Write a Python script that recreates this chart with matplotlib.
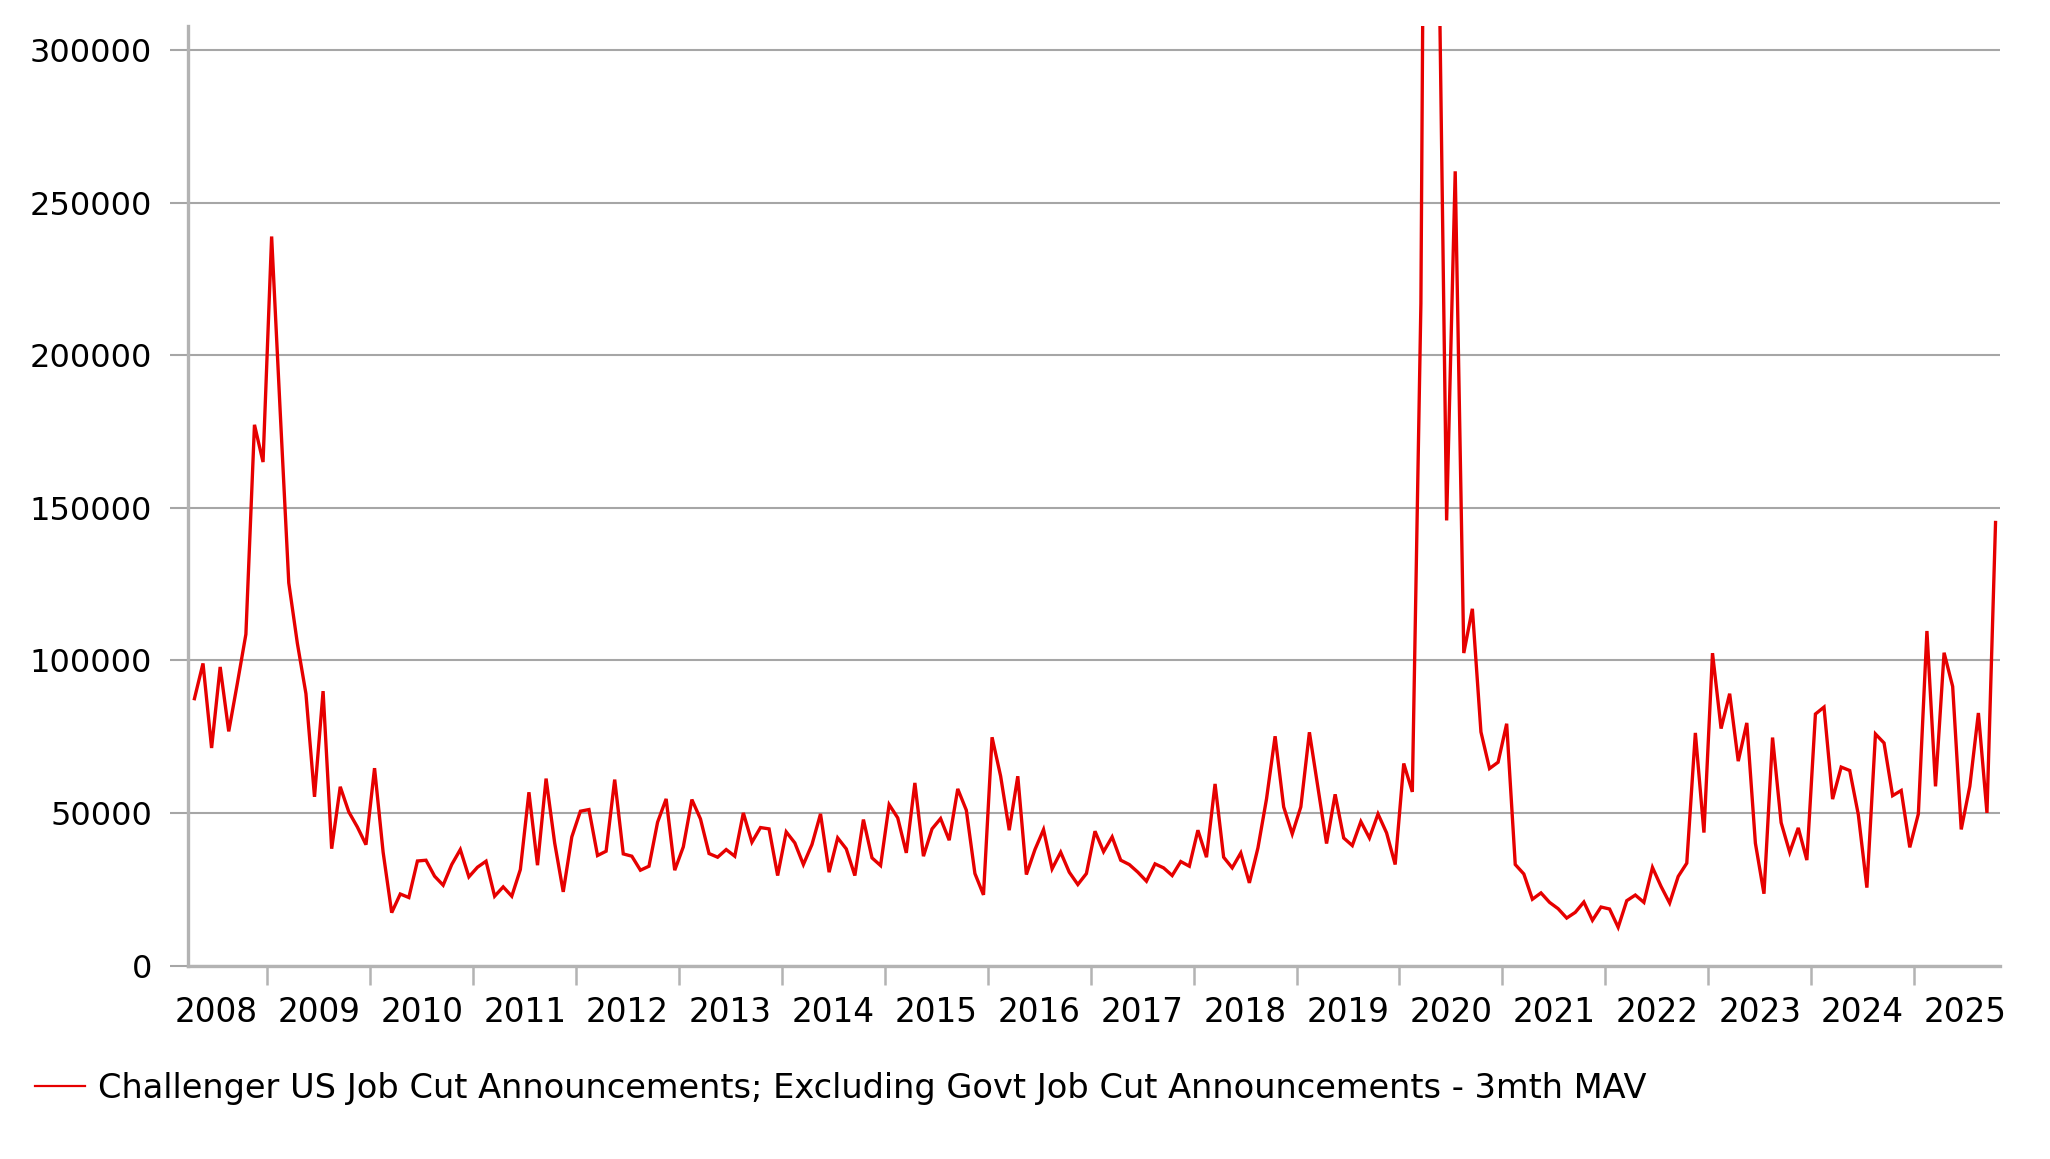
import numpy as np
import matplotlib
matplotlib.use("Agg")
import matplotlib.pyplot as plt
from matplotlib.lines import Line2D

# ---------------- data (monthly) ----------------
start_year, start_month = 2008, 4  # first observation: April 2008

cuts_2008 = [87450, 99000, 71280, 97845, 76725, 92400, 108570, 177210, 165000]
cuts_2009 = [238920, 181500, 125400, 105600, 89100, 55275, 89925, 38280, 58575, 50325, 45375, 39600]
cuts_2010 = [64680, 37125, 17325, 23430, 22275, 34250, 34500, 29270, 26320, 33090, 38000, 29050]
cuts_2011 = [32210, 34180, 22710, 25770, 22710, 31450, 56780, 32870, 61260, 40190, 24130, 42150]
cuts_2012 = [50560, 51110, 36040, 37460, 60930, 36580, 35820, 31230, 32540, 46960, 54600, 31230]
cuts_2013 = [38880, 54380, 48050, 36690, 35490, 38000, 35820, 50010, 40400, 45210, 44770, 29480]
cuts_2014 = [43790, 40190, 33090, 39640, 49690, 30580, 41820, 38220, 29480, 47830, 35270, 32760]
cuts_2015 = [52740, 48380, 36910, 59840, 35820, 44770, 48160, 41060, 57880, 50890, 30140, 23150]
cuts_2016 = [74800, 62030, 44340, 62030, 29810, 38000, 44550, 31670, 37130, 30580, 26540, 30140]
cuts_2017 = [44010, 37300, 42150, 34510, 33090, 30580, 27630, 33310, 32000, 29480, 34070, 32540]
cuts_2018 = [44340, 35490, 59510, 35490, 32000, 36910, 27080, 38550, 54600, 75130, 51980, 43130]
cuts_2019 = [51980, 76440, 58200, 39970, 56100, 41790, 39310, 47170, 41790, 49660, 43450, 33100]
cuts_2020 = [66210, 56900, 217000, 662000, 355000, 145860, 260280, 102400, 116900, 76550, 64550, 66620]
cuts_2021 = [79240, 33100, 30000, 21720, 23790, 20690, 18620, 15550, 17420, 20800, 14810, 19170]
cuts_2022 = [18510, 12520, 21240, 23090, 20690, 32130, 25920, 20470, 29190, 33540, 76230, 43560]
cuts_2023 = [102370, 77650, 89080, 66970, 79500, 40080, 23520, 74710, 46830, 37080, 45100, 34550]
cuts_2024 = [82420, 84680, 54530, 65030, 63900, 49450, 25520, 75870, 72930, 55660, 57350, 38720]
cuts_2025 = [49680, 109630, 58710, 102510, 91450, 44600, 58710, 82760, 50010, 145190]

series_label = ("Challenger US Job Cut Announcements; Excluding Govt Job Cut "
                "Announcements - 3mth MAV")
year_labels = [str(y) for y in range(2008, 2026)]
y_tick_values = [0, 50000, 100000, 150000, 200000, 250000, 300000]

# ---------------- assemble ----------------
values = np.array(cuts_2008 + cuts_2009 + cuts_2010 + cuts_2011 + cuts_2012 +
                  cuts_2013 + cuts_2014 + cuts_2015 + cuts_2016 + cuts_2017 +
                  cuts_2018 + cuts_2019 + cuts_2020 + cuts_2021 + cuts_2022 +
                  cuts_2023 + cuts_2024 + cuts_2025, dtype=float)
month_index = np.arange(len(values)) + (start_month - 1)
xpos = start_year + (month_index + 0.5) / 12.0

plt.rcParams["font.family"] = ["DejaVu Sans"]

fig = plt.figure(figsize=(20.5, 11.59), dpi=100)
ax = fig.add_axes([0.09185, 0.16695, 0.88376, 0.81088])

red = "#E60000"
grid_c = "#A6A6A6"
axis_c = "#B3B3B3"

ax.plot(xpos, values, color=red, lw=2.4, solid_joinstyle="miter", zorder=3)

ax.set_xlim(2008.232, 2025.835)
ax.set_ylim(0, 308000)

# y axis
ax.set_yticks(y_tick_values)
ax.set_yticklabels([str(v) for v in y_tick_values])
ax.yaxis.grid(True, color=grid_c, lw=1.5)
ax.set_axisbelow(True)
ax.tick_params(axis="y", direction="out", length=13, width=1.5, color=grid_c,
               pad=13, labelsize=23, labelcolor="black")

# x axis: ticks at year boundaries, labels at mid-year
ax.set_xticks(list(range(2009, 2026)))
ax.set_xticklabels([])
ax.set_xticks([int(y) + 0.5 for y in year_labels], minor=True)
ax.set_xticklabels(year_labels, minor=True)
ax.tick_params(axis="x", which="major", direction="out", length=13.5,
               width=1.8, color=axis_c)
ax.tick_params(axis="x", which="minor", length=0, pad=22, labelsize=23.5,
               labelcolor="black")

for s in ("top", "right"):
    ax.spines[s].set_visible(False)
for s in ("left", "bottom"):
    ax.spines[s].set_color(axis_c)
    ax.spines[s].set_linewidth(2.4)

handle = Line2D([], [], color=red, lw=1.6)
fig.legend(handles=[handle], labels=[series_label], loc="center left",
           bbox_to_anchor=(0.01707, 0.0612), frameon=False, borderpad=0,
           borderaxespad=0, handlelength=1.5, handletextpad=0.36,
           prop={"size": 24.2})

fig.savefig("out.png", dpi=100, facecolor="white")
